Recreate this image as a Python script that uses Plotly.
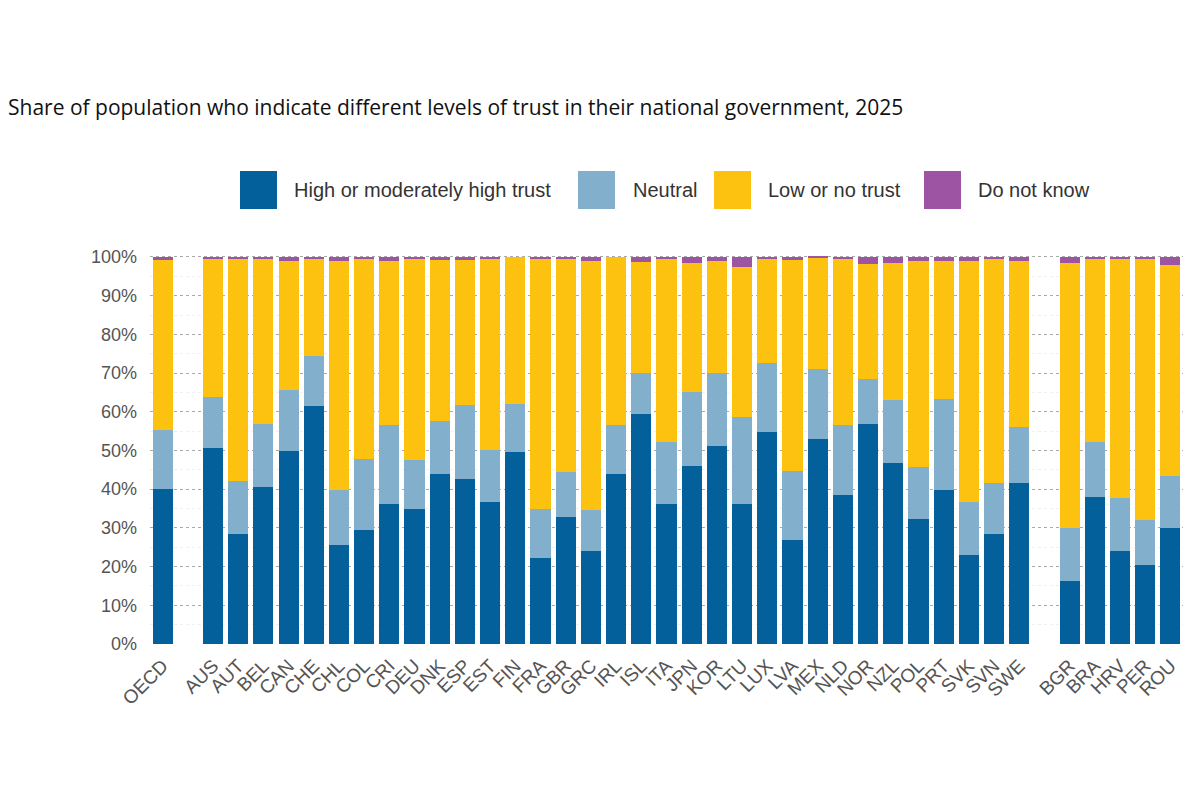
import plotly.graph_objects as go

# countries in display order, blanks are spacer slots
categories = ["OECD", " ",
              "AUS", "AUT", "BEL", "CAN", "CHE", "CHL", "COL", "CRI", "DEU", "DNK", "ESP",
              "EST", "FIN", "FRA", "GBR", "GRC", "IRL", "ISL", "ITA", "JPN", "KOR", "LTU",
              "LUX", "LVA", "MEX", "NLD", "NOR", "NZL", "POL", "PRT", "SVK", "SVN", "SWE",
              "  ",
              "BGR", "BRA", "HRV", "PER", "ROU"]

countries = [c for c in categories if c.strip()]

high = [40.0, 50.6, 28.5, 40.6, 49.8, 61.6, 25.6, 29.4, 36.1, 34.8, 44.0, 42.7,
        36.7, 49.5, 22.1, 32.8, 24.0, 43.8, 59.5, 36.2, 45.9, 51.1, 36.1,
        54.7, 26.8, 53.0, 38.6, 56.8, 46.8, 32.2, 39.9, 22.9, 28.3, 41.6,
        16.3, 38.0, 23.9, 20.4, 29.9]
neutral = [15.4, 13.2, 13.7, 16.2, 15.9, 12.8, 14.3, 18.5, 20.6, 12.7, 13.5, 19.1,
           13.5, 12.5, 12.8, 11.6, 10.6, 12.9, 10.6, 16.0, 19.3, 19.0, 22.5,
           18.0, 18.0, 18.0, 18.1, 11.6, 16.3, 13.6, 23.4, 13.8, 13.3, 14.5,
           13.6, 14.2, 13.7, 11.6, 13.6]
low = [43.7, 35.6, 57.2, 42.6, 33.2, 25.0, 59.1, 51.5, 42.2, 52.1, 41.6, 37.3,
       49.2, 38.0, 64.5, 55.2, 64.3, 43.3, 28.6, 47.2, 33.3, 28.9, 38.8,
       26.9, 54.3, 28.8, 42.9, 29.7, 35.4, 53.2, 35.7, 62.3, 58.0, 42.9,
       68.6, 47.4, 61.8, 67.4, 54.5]
dont_know = [0.9, 0.6, 0.6, 0.6, 1.1, 0.6, 1.0, 0.6, 1.1, 0.4, 0.9, 0.9,
             0.6, 0.0, 0.6, 0.4, 1.1, 0.0, 1.3, 0.6, 1.5, 1.0, 2.6,
             0.4, 0.9, 0.2, 0.4, 1.9, 1.5, 1.0, 1.0, 1.0, 0.4, 1.0,
             1.5, 0.4, 0.6, 0.6, 2.0]

series_names = ["High or moderately high trust", "Neutral", "Low or no trust", "Do not know"]
colors = ["#03609A", "#82AFCB", "#FDC20F", "#9D55A3"]

# page has an 8px body margin, so screen positions are shifted by that much
OFF = 8
W, H = 1200, 800
L, T = 150 - OFF, 255 - OFF
R = W - (1183 - OFF)
B = H - (644 - OFF)

fig = go.Figure()
for name, vals, col in zip(series_names, [high, neutral, low, dont_know], colors):
    fig.add_trace(go.Bar(x=countries, y=vals, name=name, marker=dict(color=col, line=dict(width=0)),
                         showlegend=False))


def px2paper(px, py):
    # screen pixel -> paper coords
    px, py = px - OFF, py - OFF
    return (px - L) / (W - L - R), (H - B - py) / (H - T - B)


# custom legend with big squares
legend_items = [(240, 292), (578, 631), (714, 766), (924, 976)]
shapes = []
annots = []
for (sq_x, tx), name, col in zip(legend_items, series_names, colors):
    x0, y0 = px2paper(sq_x, 209)
    x1, y1 = px2paper(sq_x + 37, 171)
    shapes.append(dict(type="rect", xref="paper", yref="paper", x0=x0, y0=y0, x1=x1, y1=y1,
                       fillcolor=col, line=dict(width=0)))
    ax, ay = px2paper(tx, 190)
    annots.append(dict(text=name, xref="paper", yref="paper", x=ax, y=ay, xanchor="left",
                       yanchor="middle", showarrow=False,
                       font=dict(family="Liberation Sans, Arial", size=20, color="#333333")))

fig.update_layout(
    width=W, height=H,
    margin=dict(l=L, r=R, t=T, b=B),
    paper_bgcolor="white", plot_bgcolor="white",
    barmode="stack", bargap=0.2,
    title=dict(text="Share of population who indicate different levels of trust in their national government, 2025",
               x=0, xanchor="left", y=1 - (108 - OFF) / H, yanchor="middle",
               font=dict(family="Open Sans", size=21, color="#111111")),
    shapes=shapes,
    annotations=annots,
)

fig.update_xaxes(type="category", categoryorder="array", categoryarray=categories,
                 tickangle=-45, ticks="", showline=False, showgrid=False, ticklabelstandoff=6,
                 tickfont=dict(family="Liberation Sans, Arial", size=19, color="#555555"))
fig.update_yaxes(range=[0, 100.5], dtick=10, ticksuffix="%", showline=False, zeroline=False,
                 showgrid=True, gridcolor="#aaaaaa", griddash="dot", gridwidth=1,
                 minor=dict(dtick=5, showgrid=True, gridcolor="#efefef", gridwidth=1),
                 ticks="", ticklabelstandoff=12,
                 tickfont=dict(family="Liberation Sans, Arial", size=18, color="#555555"))

fig.write_html("out.html")
